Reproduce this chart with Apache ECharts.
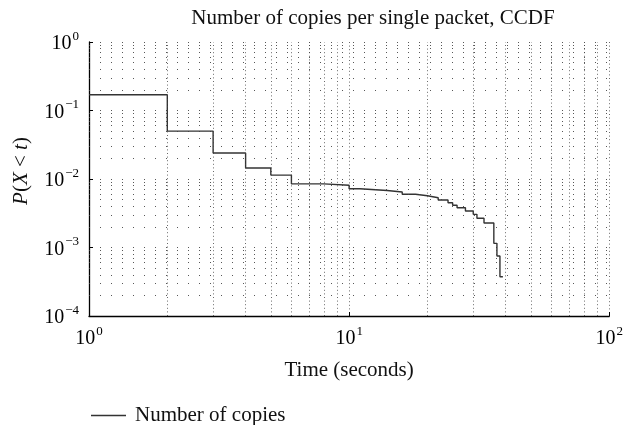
<!DOCTYPE html>
<html>
<head>
<meta charset="utf-8">
<script src="https://cdn.jsdelivr.net/npm/echarts@6/dist/echarts.min.js"></script>
<style>html,body{margin:0;padding:0;background:#fff}#c{width:626px;height:425px}</style>
</head>
<body>
<div id="c"></div>
<script>
// Step CCDF: value holds from time[i] until time[i+1]
var times = [1, 2, 3, 4, 5, 6, 8, 10, 11, 14, 16, 18, 20, 22, 24, 25, 26, 28, 30, 31, 33, 36, 37, 38, 39];
var probs = [0.17, 0.050, 0.024, 0.0145, 0.0114, 0.0085, 0.0081, 0.0072, 0.0068, 0.00646, 0.0060, 0.0057, 0.00533, 0.00493, 0.00451, 0.00413, 0.00381, 0.00341, 0.00305, 0.00267, 0.00228, 0.00115, 0.00075, 0.000375, 0.000375];
var xMinorGrid = [2, 3, 4, 5, 6, 7, 8, 9, 20, 30, 40, 50, 60, 70, 80, 90];
var yMinorGrid = [0.0002, 0.0003, 0.0004, 0.0005, 0.0006, 0.0007, 0.0008, 0.0009,
  0.002, 0.003, 0.004, 0.005, 0.006, 0.007, 0.008, 0.009,
  0.02, 0.03, 0.04, 0.05, 0.06, 0.07, 0.08, 0.09,
  0.2, 0.3, 0.4, 0.5, 0.6, 0.7, 0.8, 0.9];

var serif = '"Liberation Serif", "DejaVu Serif", serif';
var data = times.map(function (t, i) { return [t, probs[i]]; });
var vStyle = { color: '#444', type: [1, 2.6], width: 0.8 };
var hStyle = { color: '#444', type: [1, 10], width: 0.9 };
var gridLines = xMinorGrid.map(function (v) { return { xAxis: v, lineStyle: vStyle }; })
  .concat(yMinorGrid.map(function (v) { return { yAxis: v, lineStyle: hStyle }; }));

function powLabel(v) {
  var e = Math.round(Math.log10(v));
  var s = e < 0 ? '\u2212' + (-e) : String(e);
  return '{b|10}{s|' + s + '}';
}
var richLab = {
  b: { fontSize: 20, fontFamily: serif, color: '#000', verticalAlign: 'bottom', lineHeight: 24 },
  s: { fontSize: 13, fontFamily: serif, color: '#000', verticalAlign: 'top', lineHeight: 24, padding: [0, 0, 0, 1] }
};

var chart = echarts.init(document.getElementById('c'), null, { renderer: 'canvas' });
chart.setOption({
  animation: false,
  backgroundColor: '#fff',
  title: {
    text: 'Number of copies per single packet, CCDF',
    left: 368, top: 3, textAlign: 'center',
    textStyle: { fontFamily: serif, fontSize: 21, fontWeight: 'normal', color: '#111' }
  },
  grid: { left: 89, right: 8, top: 42, bottom: 109, containLabel: false },
  legend: {
    left: 86, top: 400,
    icon: 'rect',
    itemWidth: 35, itemHeight: 1.4, itemGap: 10,
    textStyle: { fontFamily: serif, fontSize: 21, color: '#111', padding: [0, 0, 0, 4] },
    data: ['Number of copies']
  },
  xAxis: {
    type: 'log', logBase: 10, min: 1, max: 100,
    name: 'Time (seconds)', nameLocation: 'middle', nameGap: 44,
    nameTextStyle: { fontFamily: serif, fontSize: 21, color: '#111' },
    axisLine: { show: true, lineStyle: { color: '#000', width: 1.3 } },
    axisTick: { show: true, inside: true, length: 4, lineStyle: { color: '#000' } },
    axisLabel: { formatter: powLabel, rich: richLab, margin: 9 },
    splitLine: { show: true, lineStyle: vStyle }
  },
  yAxis: {
    type: 'log', logBase: 10, min: 0.0001, max: 1,
    name: '{i|P}({i|X} < {i|t})', nameLocation: 'middle', nameGap: 57, nameRotate: 90,
    nameTextStyle: {
      fontFamily: serif, fontSize: 21, color: '#111', padding: [0, 0, 0, 16],
      rich: { i: { fontFamily: serif, fontSize: 21, fontStyle: 'italic', color: '#111' } }
    },
    axisLine: { show: true, lineStyle: { color: '#000', width: 1.3 } },
    axisTick: { show: true, inside: true, length: 4, lineStyle: { color: '#000' } },
    axisLabel: { formatter: powLabel, rich: richLab, margin: 10 },
    splitLine: { show: true, lineStyle: hStyle }
  },
  series: [{
    name: 'Number of copies',
    type: 'line',
    step: 'end',
    data: data,
    symbol: 'none',
    lineStyle: { color: '#333', width: 1.4 },
    itemStyle: { color: '#333' },
    markLine: {
      silent: true, symbol: 'none', precision: 8, label: { show: false },
      data: gridLines
    }
  }]
});
</script>
</body>
</html>
